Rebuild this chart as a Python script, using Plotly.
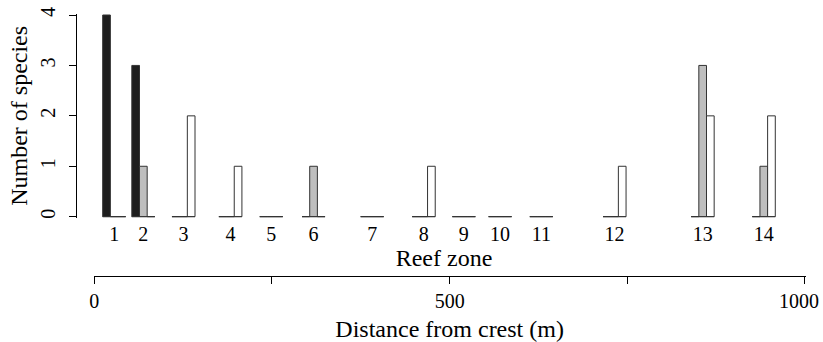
import plotly.graph_objects as go

# ---- data ----
zones = ["1", "2", "3", "4", "5", "6", "7", "8", "9", "10", "11", "12", "13", "14"]
zone_distance = [28, 69, 125.5, 191.5, 249, 308.5, 391, 463.5, 520, 571, 629, 732, 856, 942]
black_counts = [4, 3, 0, 0, 0, 0, 0, 0, 0, 0, 0, 0, 0, 0]
gray_counts = [0, 1, 0, 0, 0, 1, 0, 0, 0, 0, 0, 0, 3, 1]
white_counts = [0, 0, 2, 1, 0, 0, 0, 1, 0, 0, 0, 1, 2, 2]
dist_ticks = [0, 250, 500, 750, 1000]
dist_ticktext = ["0", "", "500", "", ""]
dist_end_tick = [1000]
dist_end_text = ["1000"]
y_ticks = [0, 1, 2, 3, 4]

# ---- styling ----
W, H = 823, 342
ML, MR, MT, MB = 77, 12, 14, 66
X0_PX = 94.3          # pixel of distance 0
PX_PER_M = 0.7107     # pixels per metre
bar_w = 10.8
FONT = "Liberation Serif"
border = "#333333"
fills = ["#1e1e1e", "#bebebe", "#ffffff"]
offsets = [-1.5, -0.5, 0.5]
TICK_SIZE = 20
TITLE_SIZE = 24

plot_w = W - ML - MR
plot_h = H - MT - MB
x_left = -(X0_PX - ML) / PX_PER_M
x_right = x_left + plot_w / PX_PER_M
d_lo, d_hi = -1.0, 1001.0

fig = go.Figure()

# zero baseline per zone group (zero-height bars show as a flat line)
bx, by = [], []
for d in zone_distance:
    bx += [d - 1.5 * bar_w, d + 1.5 * bar_w, None]
    by += [0, 0, None]
fig.add_trace(go.Scatter(x=bx, y=by, mode="lines", line=dict(color=border, width=1),
                         hoverinfo="skip", showlegend=False, cliponaxis=False))

for vals, fill, off in zip([black_counts, gray_counts, white_counts], fills, offsets):
    fig.add_trace(go.Bar(x=zone_distance, y=vals, width=bar_w, offset=off * bar_w,
                         marker=dict(color=fill, line=dict(color=border, width=1)),
                         showlegend=False))

# y-domain: 0..4 at pixels 216.7..15 from top
y_bottom_px = 216.7 + 1
y_top_px = 15 - 1
bottom_line_px = H - MB
dom0 = (bottom_line_px - y_bottom_px) / plot_h
dom1 = (bottom_line_px - y_top_px) / plot_h

x2_left_px = X0_PX + d_lo * PX_PER_M
x2_right_px = X0_PX + d_hi * PX_PER_M
x2_domain = [(x2_left_px - ML) / plot_w, (x2_right_px - ML) / plot_w]

fig.update_layout(
    width=W, height=H,
    margin=dict(l=ML, r=MR, t=MT, b=MB, autoexpand=False),
    plot_bgcolor="rgba(0,0,0,0)", paper_bgcolor="white",
    barmode="overlay",
    font=dict(family=FONT, size=TICK_SIZE, color="black"),
    xaxis=dict(range=[x_left, x_right], domain=[0, 1], anchor="y", automargin=False,
               tickvals=zone_distance, ticktext=zones, ticks="",
               showline=False, showgrid=False, zeroline=False,
               ticklabelstandoff=2,
               title=dict(text="Reef zone", standoff=0, font=dict(size=TITLE_SIZE))),
    xaxis2=dict(range=[d_lo, d_hi], domain=x2_domain,
                anchor="free", position=0, automargin=False,
                tickvals=dist_ticks, ticktext=dist_ticktext,
                ticks="outside", ticklen=7, tickcolor="black", showline=True,
                linecolor="black", linewidth=1, showgrid=False, zeroline=False,
                side="bottom",
                title=dict(text="Distance from crest (m)", standoff=12, font=dict(size=TITLE_SIZE))),
    xaxis3=dict(range=[d_lo, d_hi], domain=x2_domain, overlaying="x2",
                anchor="free", position=0, automargin=False,
                tickvals=dist_end_tick, ticktext=dist_end_text, ticklabelshift=-6,
                ticklabeloverflow="allow", ticks="outside", ticklen=7,
                tickcolor="rgba(0,0,0,0)", showline=False, showgrid=False,
                zeroline=False, side="bottom"),
    yaxis=dict(range=[-0.02, 4.02], domain=[dom0, dom1], tickvals=y_ticks, automargin=False,
               ticks="outside", ticklen=7, tickcolor="black", tickangle=-90,
               showline=True, linecolor="black", linewidth=1,
               showgrid=False, zeroline=False, ticklabelstandoff=6,
               title=dict(text="Number of species", standoff=2, font=dict(size=TITLE_SIZE))),
)

# invisible traces so the distance axes render
fig.add_trace(go.Scatter(x=[0, 1000], y=[None, None], xaxis="x2", yaxis="y",
                         mode="markers", showlegend=False, hoverinfo="skip"))
fig.add_trace(go.Scatter(x=[0, 1000], y=[None, None], xaxis="x3", yaxis="y",
                         mode="markers", showlegend=False, hoverinfo="skip"))

fig.write_html("out.html", config={"displayModeBar": False},
               post_script="document.body.style.margin='0';")
